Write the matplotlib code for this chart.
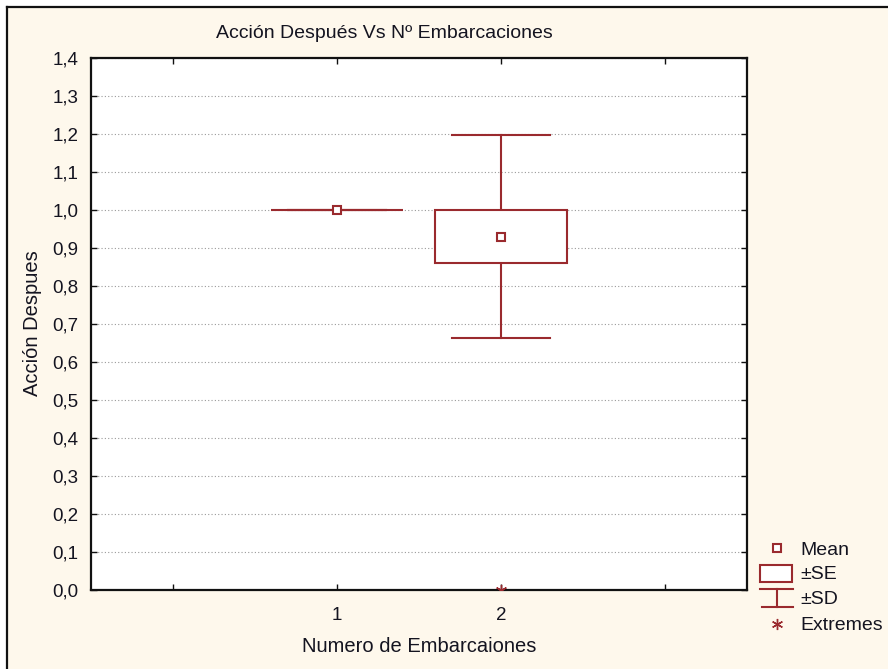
import numpy as np
import matplotlib.pyplot as plt
from matplotlib.patches import Rectangle

# group statistics
groups = [1, 2]
means = [1.0, 0.93]
se = [0.0, 0.07]
sd = [0.0, 0.267]
extreme_groups = [2]
extreme_values = [0.0]

title = "Acción Después Vs Nº Embarcaciones"
xlabel = "Numero de Embarcaiones"
ylabel = "Acción Despues"
legend_labels = ["Mean", "±SE", "±SD", "Extremes"]

red = "#9a2a2e"
ink = "#141420"
cream = "#fef8ec"
W, H = 888, 669

plt.rcParams['font.family'] = ['Liberation Sans', 'DejaVu Sans']

fig = plt.figure(figsize=(W / 100, H / 100), dpi=100)
fig.patch.set_facecolor("white")
# window panel with a dark edge on the left and top
fig.patches.append(Rectangle((6.5 / W, 0), 1, 1 - 6.5 / H, transform=fig.transFigure,
                             facecolor=cream, edgecolor="none", zorder=-2))
fig.add_artist(plt.Line2D([6.5 / W, 6.5 / W], [0, 1 - 6.5 / H], color="#111111", lw=1.6))
fig.add_artist(plt.Line2D([6.5 / W, 1], [1 - 6.5 / H, 1 - 6.5 / H], color="#111111", lw=1.6))

ax = fig.add_axes([91 / W, 1 - 590 / H, (747 - 91) / W, (590 - 58) / H])
ax.set_facecolor("white")

box_w = 0.8
cap_w = 0.6
for g, m, e, s in zip(groups, means, se, sd):
    ax.plot([g, g], [m + e, m + s], color=red, lw=1.5, zorder=3)
    ax.plot([g, g], [m - s, m - e], color=red, lw=1.5, zorder=3)
    ax.plot([g - cap_w / 2, g + cap_w / 2], [m + s, m + s], color=red, lw=1.5, zorder=3)
    ax.plot([g - cap_w / 2, g + cap_w / 2], [m - s, m - s], color=red, lw=1.5, zorder=3)
    ax.add_patch(Rectangle((g - box_w / 2, m - e), box_w, 2 * e, facecolor="white",
                           edgecolor=red, lw=1.5, zorder=3))
    ax.plot(g, m, marker="s", ms=6, mfc="white", mec=red, mew=1.5, zorder=4)

ax.plot(extreme_groups, extreme_values, ls="none", marker=(6, 2, 0), ms=8,
        color=red, mew=1.0, zorder=5, clip_on=True)

ax.set_xlim(-0.5, 3.5)
ax.set_ylim(0, 1.4)
ax.set_xticks([0, 1, 2, 3])
ax.set_xticklabels(["", "1", "2", ""])
yt = np.round(np.arange(0, 1.41, 0.1), 1)
ax.set_yticks(yt)
ax.set_yticklabels([f"{v:.1f}".replace(".", ",") for v in yt])
ax.tick_params(direction="in", length=4, width=1, colors="#111111", labelcolor=ink,
               labelsize=13.5, top=True, right=True, pad=9)
ax.tick_params(axis="x", pad=12)
for sp in ax.spines.values():
    sp.set_linewidth(1.6)
    sp.set_color("#111111")
ax.grid(axis="y", ls=(0, (1, 2)), color="#9a9a9a", lw=0.8, zorder=0)
ax.set_axisbelow(True)

fig.text(384.5 / W, 1 - 33 / H, title, ha="center", va="center", fontsize=14,
         color=ink)
fig.text(419 / W, 1 - 647 / H, xlabel, ha="center", va="center", fontsize=14.5, color=ink)
fig.text(33 / W, 1 - 323 / H, ylabel, ha="center", va="center", fontsize=14.5,
         rotation=90, color=ink)

# legend keys drawn in pixel units
lg = fig.add_axes([750 / W, 1 - 640 / H, 138 / W, 105 / H])
lg.set_xlim(750, 888)
lg.set_ylim(640, 535)
lg.axis("off")
lg.plot(777, 548, marker="s", ms=6, mfc="white", mec=red, mew=1.5)
lg.add_patch(Rectangle((760, 565), 32, 17, facecolor="white", edgecolor=red, lw=1.5))
lg.plot([760, 793], [589, 589], color=red, lw=1.5)
lg.plot([776.5, 776.5], [589, 607], color=red, lw=1.5)
lg.plot([762, 793], [607, 607], color=red, lw=1.5)
lg.plot(777, 624, marker=(6, 2, 0), ms=8, color=red, mew=1.0)
for lab, yy in zip(legend_labels, [551, 575, 600, 626]):
    lg.text(800, yy, lab, ha="left", va="center", fontsize=14, color=ink)

fig.savefig("out.png", dpi=100, facecolor=fig.get_facecolor())
